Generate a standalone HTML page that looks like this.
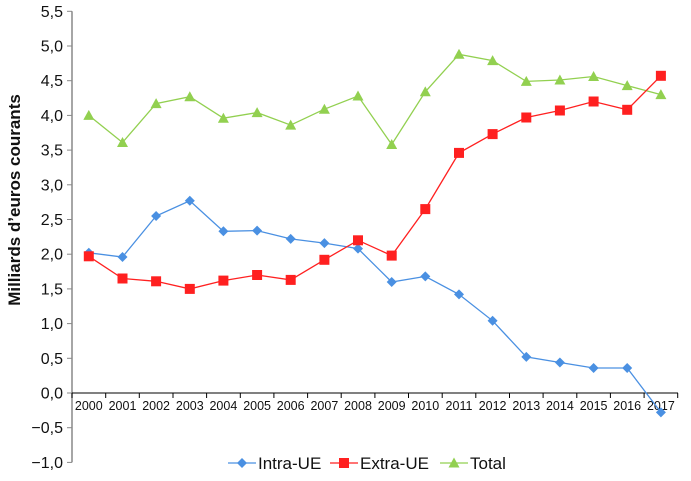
<!DOCTYPE html><html><head><style>body{margin:0;background:#fff}</style></head><body>
<svg width="691" height="476" xmlns="http://www.w3.org/2000/svg" font-family="Liberation Sans, sans-serif">
<defs>
<marker id="d" markerUnits="userSpaceOnUse" markerWidth="11" markerHeight="11" refX="5.5" refY="5.5" viewBox="0 0 11 11"><polygon points="5.5,0.5 10.5,5.5 5.5,10.5 0.5,5.5" fill="#4a90e2"/></marker>
<marker id="s" markerUnits="userSpaceOnUse" markerWidth="11" markerHeight="11" refX="5.5" refY="5.5" viewBox="0 0 11 11"><rect x="0.5" y="0.5" width="10" height="10" fill="#ff2020"/></marker>
<marker id="t" markerUnits="userSpaceOnUse" markerWidth="11" markerHeight="11" refX="5.5" refY="5.5" viewBox="0 0 11 11"><polygon points="5.5,0 11,10 0,10" fill="#92d050"/></marker>
</defs>
<g stroke="#888">
<line x1="67" x2="72" y1="11.3" y2="11.3"/><line x1="67" x2="72" y1="46" y2="46"/><line x1="67" x2="72" y1="80.7" y2="80.7"/><line x1="67" x2="72" y1="115.4" y2="115.4"/><line x1="67" x2="72" y1="150.1" y2="150.1"/><line x1="67" x2="72" y1="184.8" y2="184.8"/><line x1="67" x2="72" y1="219.5" y2="219.5"/><line x1="67" x2="72" y1="254.2" y2="254.2"/><line x1="67" x2="72" y1="288.9" y2="288.9"/><line x1="67" x2="72" y1="323.6" y2="323.6"/><line x1="67" x2="72" y1="358.3" y2="358.3"/><line x1="67" x2="72" y1="393" y2="393"/><line x1="67" x2="72" y1="427.7" y2="427.7"/><line x1="67" x2="72" y1="462.4" y2="462.4"/>
<line x1="72" x2="72" y1="11.3" y2="462.4" stroke-width="1.5"/>
</g>
<g font-size="16" text-anchor="end" fill="#111">
<text x="63" y="16.8">5,5</text><text x="63" y="51.5">5,0</text><text x="63" y="86.2">4,5</text><text x="63" y="120.9">4,0</text><text x="63" y="155.6">3,5</text><text x="63" y="190.3">3,0</text><text x="63" y="225">2,5</text><text x="63" y="259.7">2,0</text><text x="63" y="294.4">1,5</text><text x="63" y="329.1">1,0</text><text x="63" y="363.8">0,5</text><text x="63" y="398.5">0,0</text><text x="63" y="433.2">−0,5</text><text x="63" y="467.9">−1,0</text>
</g>
<line x1="72" x2="678" y1="393" y2="393" stroke="#000"/>
<path stroke="#000" d="M72 393v5M105.7 393v5M139.3 393v5M173 393v5M206.6 393v5M240.3 393v5M273.9 393v5M307.6 393v5M341.2 393v5M374.9 393v5M408.5 393v5M442.2 393v5M475.8 393v5M509.5 393v5M543.1 393v5M576.8 393v5M610.4 393v5M644.1 393v5M677.7 393v5"/>
<g font-size="12.5" text-anchor="middle" fill="#111">
<text x="88.8" y="410">2000</text><text x="122.5" y="410">2001</text><text x="156.1" y="410">2002</text><text x="189.8" y="410">2003</text><text x="223.4" y="410">2004</text><text x="257.1" y="410">2005</text><text x="290.7" y="410">2006</text><text x="324.4" y="410">2007</text><text x="358" y="410">2008</text><text x="391.7" y="410">2009</text><text x="425.3" y="410">2010</text><text x="459" y="410">2011</text><text x="492.6" y="410">2012</text><text x="526.3" y="410">2013</text><text x="559.9" y="410">2014</text><text x="593.6" y="410">2015</text><text x="627.2" y="410">2016</text><text x="660.9" y="410">2017</text>
</g>
<polyline fill="none" stroke="#92d050" stroke-width="1.3" marker-start="url(#t)" marker-mid="url(#t)" marker-end="url(#t)" points="88.8,115.4 122.5,142.5 156.1,103.6 189.8,96.7 223.4,118.2 257.1,112.6 290.7,125.1 324.4,109.2 358,96 391.7,144.5 425.3,91.8 459,54.3 492.6,60.6 526.3,81.4 559.9,80 593.6,76.5 627.2,85.6 660.9,94.6"/>
<polyline fill="none" stroke="#4a90e2" stroke-width="1.3" marker-start="url(#d)" marker-mid="url(#d)" marker-end="url(#d)" points="88.8,252.8 122.5,257 156.1,216 189.8,200.8 223.4,231.3 257.1,230.6 290.7,238.9 324.4,243.1 358,248.6 391.7,282 425.3,276.4 459,294.4 492.6,320.8 526.3,356.9 559.9,362.5 593.6,368 627.2,368 660.9,412.4"/>
<polyline fill="none" stroke="#ff2020" stroke-width="1.3" marker-start="url(#s)" marker-mid="url(#s)" marker-end="url(#s)" points="88.8,256.3 122.5,278.5 156.1,281.3 189.8,288.9 223.4,280.6 257.1,275 290.7,279.9 324.4,259.8 358,240.3 391.7,255.6 425.3,209.1 459,152.9 492.6,134.1 526.3,117.5 559.9,110.5 593.6,101.5 627.2,109.8 660.9,75.8"/>
<text transform="translate(20,200) rotate(-90)" font-size="17" font-weight="bold" text-anchor="middle" fill="#111">Milliards d’euros courants</text>
<polyline fill="none" stroke="#4a90e2" stroke-width="1.3" marker-mid="url(#d)" points="228,463 242,463 256,463"/>
<text x="258" y="469" font-size="17" fill="#111">Intra-UE</text>
<polyline fill="none" stroke="#ff2020" stroke-width="1.3" marker-mid="url(#s)" points="330,463 344,463 358,463"/>
<text x="360" y="469" font-size="17" fill="#111">Extra-UE</text>
<polyline fill="none" stroke="#92d050" stroke-width="1.3" marker-mid="url(#t)" points="440,463 454,463 468,463"/>
<text x="470" y="469" font-size="17" fill="#111">Total</text>
</svg></body></html>
